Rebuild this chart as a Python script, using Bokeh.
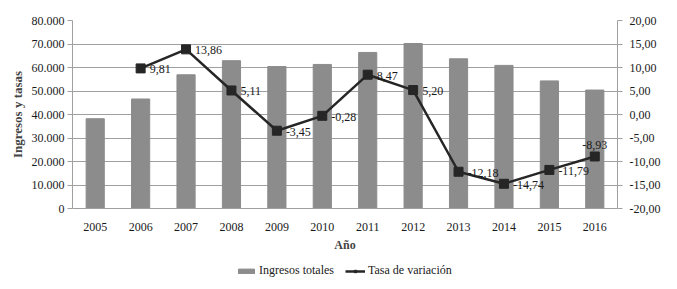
from bokeh.plotting import figure
from bokeh.layouts import column
from bokeh.models import (ColumnDataSource, LinearAxis, Range1d, Legend, LegendItem,
                          CustomJSTickFormatter, FixedTicker)
from bokeh.core.properties import value
from bokeh.embed import file_html
from bokeh.resources import INLINE

years = ["2005", "2006", "2007", "2008", "2009", "2010", "2011", "2012", "2013", "2014", "2015", "2016"]
ingresos = [38200, 46600, 56900, 62900, 60400, 61300, 66400, 70200, 63700, 60900, 54300, 50400]
tasa_years = ["2006", "2007", "2008", "2009", "2010", "2011", "2012", "2013", "2014", "2015", "2016"]
tasa = [9.81, 13.86, 5.11, -3.45, -0.28, 8.47, 5.20, -12.18, -14.74, -11.79, -8.93]
tasa_labels = ["9,81", "13,86", "5,11", "-3,45", "-0,28", "8,47", "5,20", "-12,18", "-14,74", "-11,79", "-8,93"]

FONT = "Liberation Serif"
BAR = "#8c8c8c"
LINE = "#262626"
TXT = "#1a1a1a"

p = figure(x_range=years, y_range=Range1d(0, 80000), width=677, height=254,
           output_backend="svg", toolbar_location=None,
           min_border_left=72, min_border_right=60, min_border_top=20, min_border_bottom=40)
p.extra_y_ranges = {"rate": Range1d(-20, 20)}
p.outline_line_color = None
p.background_fill_color = "white"
p.x_range.range_padding = 0

p.vbar(x=years, top=ingresos, width=0.4, color=BAR)

src_r = ColumnDataSource(dict(x=tasa_years, y=tasa, t=tasa_labels))
p.line(x="x", y="y", source=src_r, y_range_name="rate", line_color=LINE, line_width=2.5)
p.scatter(x="x", y="y", source=src_r, y_range_name="rate", marker="square", size=9, color=LINE)

right_idx = list(range(len(tasa_years) - 1))
src_right = ColumnDataSource(dict(x=[tasa_years[i] for i in right_idx],
                                  y=[tasa[i] for i in right_idx],
                                  t=[tasa_labels[i] for i in right_idx]))
p.text(x="x", y="y", text="t", source=src_right, y_range_name="rate",
       x_offset=9, y_offset=1, text_align="left", text_baseline="middle",
       text_font=value(FONT), text_font_size="12px", text_color=TXT)
src_top = ColumnDataSource(dict(x=[tasa_years[-1]], y=[tasa[-1]], t=[tasa_labels[-1]]))
p.text(x="x", y="y", text="t", source=src_top, y_range_name="rate",
       y_offset=-7, text_align="center", text_baseline="bottom",
       text_font=value(FONT), text_font_size="12px", text_color=TXT)

# left axis
yax = p.yaxis[0]
yax.ticker = FixedTicker(ticks=list(range(0, 80001, 10000)))
yax.formatter = CustomJSTickFormatter(code="""
    return tick == 0 ? '0' : (tick/1000).toFixed(0) + '.000';
""")
yax.axis_label = "Ingresos y tasas"
yax.axis_label_text_font = FONT
yax.axis_label_text_font_style = "bold"
yax.axis_label_text_font_size = "13px"
yax.axis_label_standoff = 4
yax.major_label_text_font = FONT
yax.major_label_text_font_size = "12px"
yax.major_label_text_color = TXT
yax.major_label_standoff = 3
yax.axis_line_color = "#a0a0a0"
yax.major_tick_line_color = "#a0a0a0"
yax.major_tick_out = 5
yax.major_tick_in = 0
yax.minor_tick_line_color = None

rax = LinearAxis(y_range_name="rate")
rax.ticker = FixedTicker(ticks=list(range(-20, 21, 5)))
rax.formatter = CustomJSTickFormatter(code="return tick.toFixed(2).replace('.', ',');")
rax.major_label_text_font = FONT
rax.major_label_text_font_size = "12px"
rax.major_label_text_color = TXT
rax.major_label_standoff = 7
rax.axis_line_color = "#a0a0a0"
rax.major_tick_line_color = "#a0a0a0"
rax.major_tick_out = 5
rax.major_tick_in = 0
rax.minor_tick_line_color = None
p.add_layout(rax, "right")

xax = p.xaxis[0]
xax.axis_label = "Año"
xax.axis_label_text_font = FONT
xax.axis_label_text_font_style = "bold"
xax.axis_label_text_font_size = "12px"
xax.axis_label_standoff = 4
xax.major_label_text_font = FONT
xax.major_label_text_font_size = "12px"
xax.major_label_text_color = TXT
xax.major_label_standoff = 8
xax.axis_line_color = "#a0a0a0"
xax.major_tick_line_color = None

p.xgrid.grid_line_color = None
p.ygrid.grid_line_color = "#a0a0a0"
p.ygrid.grid_line_width = 1

# legend strip (legend glyph renderers sit outside the visible range)
lf = figure(width=677, height=35, output_backend="svg", toolbar_location=None,
            x_range=Range1d(0, 1), y_range=Range1d(0, 1),
            min_border=0, outline_line_color=None)
lf.axis.visible = False
lf.grid.visible = False
r_bar = lf.vbar(x=[-10], top=[-10], bottom=[-11], width=0.4, color=BAR)
r_line = lf.line(x=[-10, -9], y=[-10, -10], line_color=LINE, line_width=2.5)
r_mk = lf.scatter(x=[-10], y=[-10], marker="square", size=7, color=LINE)
legend = Legend(items=[LegendItem(label="Ingresos totales", renderers=[r_bar]),
                       LegendItem(label="Tasa de variación", renderers=[r_line, r_mk])],
                orientation="horizontal", location=(164, 11),
                label_text_font=FONT, label_text_font_size="12px",
                label_text_color=TXT, border_line_color=None, background_fill_alpha=0,
                glyph_width=20, glyph_height=6, spacing=11, padding=2, margin=0,
                label_standoff=3, label_height=14)
lf.add_layout(legend)

layout = column(p, lf, spacing=0)
open("out.html", "w").write(file_html(layout, INLINE))
